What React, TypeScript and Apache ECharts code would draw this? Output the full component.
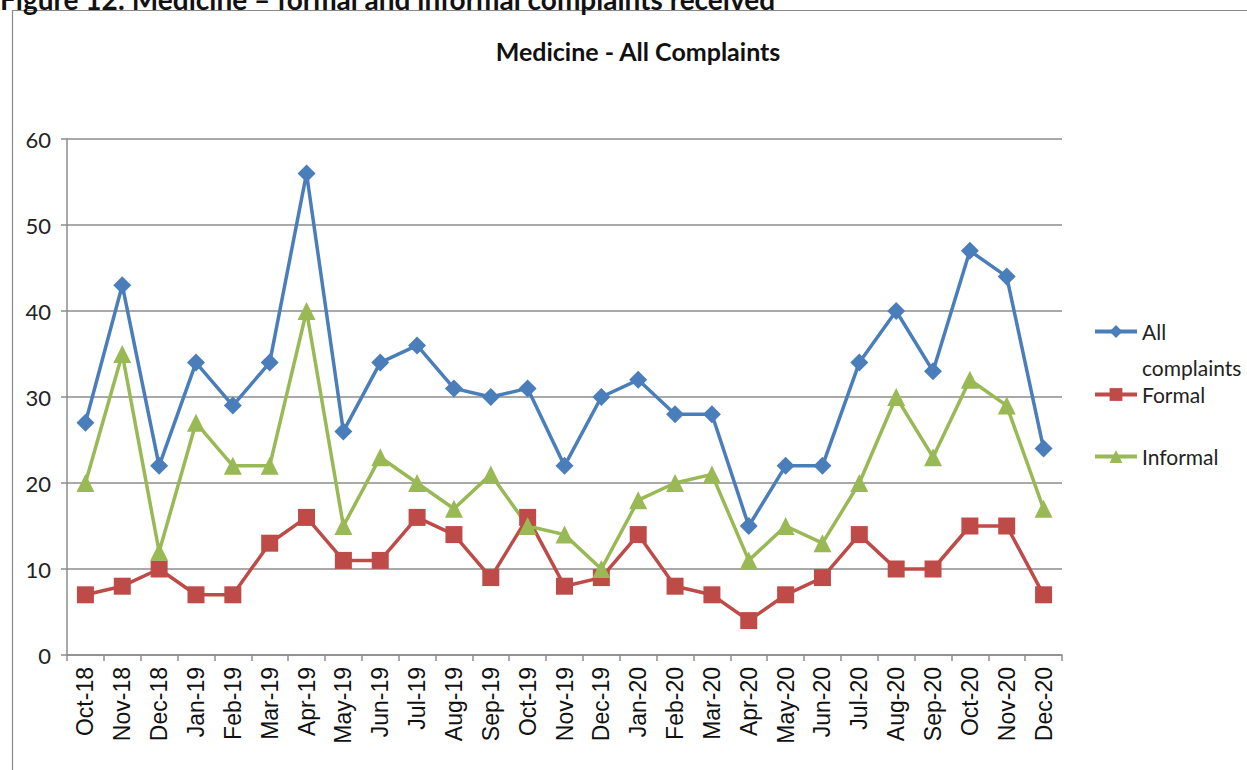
import React, { useEffect, useRef } from "react";
import * as echarts from "echarts";

// Months reported, Oct 2018 – Dec 2020
const months = [
  "Oct-18", "Nov-18", "Dec-18", "Jan-19", "Feb-19", "Mar-19", "Apr-19", "May-19", "Jun-19",
  "Jul-19", "Aug-19", "Sep-19", "Oct-19", "Nov-19", "Dec-19", "Jan-20", "Feb-20", "Mar-20",
  "Apr-20", "May-20", "Jun-20", "Jul-20", "Aug-20", "Sep-20", "Oct-20", "Nov-20", "Dec-20",
];

const allComplaints = [27, 43, 22, 34, 29, 34, 56, 26, 34, 36, 31, 30, 31, 22, 30, 32, 28, 28, 15, 22, 22, 34, 40, 33, 47, 44, 24];
const formal = [7, 8, 10, 7, 7, 13, 16, 11, 11, 16, 14, 9, 16, 8, 9, 14, 8, 7, 4, 7, 9, 14, 10, 10, 15, 15, 7];
const informal = [20, 35, 12, 27, 22, 22, 40, 15, 23, 20, 17, 21, 15, 14, 10, 18, 20, 21, 11, 15, 13, 20, 30, 23, 32, 29, 17];

const yTicks = [0, 10, 20, 30, 40, 50, 60];

const BLUE = "#4a7ebb";
const RED = "#be4b48";
const GREEN = "#98b954";
const GRID = "#8c8c8c";
const FONT = "Lato, 'Open Sans', sans-serif";

export default function App() {
  const ref = useRef<HTMLDivElement>(null);

  useEffect(() => {
    if (!ref.current) return;
    const chart = echarts.init(ref.current, undefined, { renderer: "svg" });

    const lineSeries = (name: string, data: number[], color: string, symbol: string, size: number) => ({
      name,
      type: "line",
      data,
      symbol,
      symbolSize: size,
      showSymbol: true,
      lineStyle: { color, width: 3.5 },
      itemStyle: { color },
      emphasis: { disabled: true },
    });

    const legendBase = {
      orient: "vertical",
      left: 1088,
      itemWidth: 42,
      itemHeight: 16,
      itemGap: 4,
      lineStyle: { width: 4 },
      textStyle: { fontFamily: FONT, fontSize: 21, color: "#222" },
      selectedMode: false,
    };

    chart.setOption({
      animation: false,
      backgroundColor: "#ffffff",
      title: {
        text: "Medicine - All Complaints",
        left: 633,
        textAlign: "center",
        top: 33,
        textStyle: { fontFamily: FONT, fontSize: 25, fontWeight: "bold", color: "#111" },
      },
      graphic: [
        {
          type: "rect",
          shape: { x: 12.5, y: 10.5, width: 1260, height: 800 },
          style: { fill: "none", stroke: "#8a8a8a", lineWidth: 1.2 },
          silent: true,
        },
        {
          type: "text",
          x: 0,
          y: 13,
          style: {
            text: "Figure 12: Medicine \u2013 formal and informal complaints received",
            fontFamily: FONT,
            fontSize: 28,
            fontWeight: "bold",
            fill: "#111",
            textVerticalAlign: "bottom",
          },
          silent: true,
        },
        {
          // second line of the "All complaints" legend label
          type: "text",
          x: 1142,
          y: 367,
          style: {
            text: "complaints",
            fontFamily: FONT,
            fontSize: 21,
            fill: "#222",
            textVerticalAlign: "middle",
          },
          silent: true,
        },
      ],
      legend: [
        {
          ...legendBase,
          top: 316,
          data: ["All complaints"],
          formatter: () => "All",
        },
        { ...legendBase, top: 379, data: ["Formal"] },
        { ...legendBase, top: 441, data: ["Informal"] },
      ],
      grid: { left: 67, right: 185, top: 139, bottom: 115, containLabel: false },
      xAxis: {
        type: "category",
        data: months,
        boundaryGap: true,
        axisLine: { lineStyle: { color: GRID, width: 1.5 } },
        axisTick: { show: true, interval: 0, length: 6, lineStyle: { color: GRID, width: 1.5 } },
        axisLabel: {
          interval: 0,
          rotate: 90,
          margin: 12,
          fontFamily: "'Liberation Sans', Arial, sans-serif",
          fontSize: 23,
          color: "#111",
        },
      },
      yAxis: {
        type: "value",
        min: yTicks[0],
        max: yTicks[yTicks.length - 1],
        interval: 10,
        axisLine: { show: true, lineStyle: { color: GRID, width: 1.5 } },
        axisTick: { show: true, length: 6, lineStyle: { color: GRID, width: 1.5 } },
        axisLabel: { margin: 16, fontFamily: FONT, fontSize: 22, color: "#222" },
        splitLine: { show: true, lineStyle: { color: GRID, width: 1.5 } },
      },
      series: [
        lineSeries("All complaints", allComplaints, BLUE, "diamond", 18),
        lineSeries("Formal", formal, RED, "rect", 17),
        lineSeries("Informal", informal, GREEN, "triangle", 18),
      ],
    });

    return () => chart.dispose();
  }, []);

  return (
    <div
      ref={ref}
      style={{ position: "absolute", left: 0, top: 0, width: 1247, height: 770, background: "#fff" }}
    />
  );
}
